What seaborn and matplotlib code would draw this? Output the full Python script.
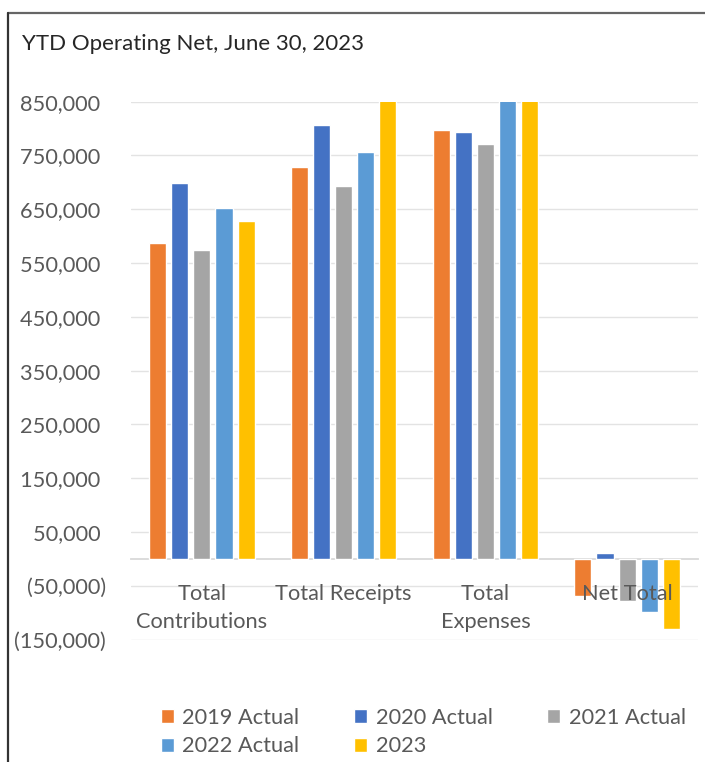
import matplotlib
matplotlib.use("Agg")
import matplotlib.pyplot as plt
import seaborn as sns
import pandas as pd
from matplotlib.lines import Line2D
from matplotlib.ticker import FuncFormatter, FixedLocator

# ---- data ----
categories = ["Total\nContributions", "Total Receipts", "Total\nExpenses", "Net Total"]
series = ["2019 Actual", "2020 Actual", "2021 Actual", "2022 Actual", "2023"]
v2019 = [588000, 729000, 797000, -70000]
v2020 = [699000, 807000, 793000, 10000]
v2021 = [575000, 694000, 771000, -78000]
v2022 = [652000, 757000, 856000, -99000]
v2023 = [628000, 860000, 990000, -130000]
y_ticks = [-150000, -50000, 50000, 150000, 250000, 350000, 450000,
           550000, 650000, 750000, 850000]
title = "YTD Operating Net, June 30, 2023"

colors = ["#ED7D31", "#4472C4", "#A5A5A5", "#5B9BD5", "#FFC000"]

rows = []
for s, vals in zip(series, [v2019, v2020, v2021, v2022, v2023]):
    for c, v in zip(categories, vals):
        rows.append({"Category": c, "Series": s, "Value": v})
df = pd.DataFrame(rows)

sns.set_style("white")
plt.rcParams["font.family"] = ["Lato", "DejaVu Sans"]

FS = 15.7
W, H = 705, 762
fig = plt.figure(figsize=(W / 100, H / 100), dpi=100)
left, right, top, bottom = 131, 698, 101.7, 639.5
ax = fig.add_axes([left / W, 1 - bottom / H, (right - left) / W, (bottom - top) / H])

sns.barplot(data=df, x="Category", y="Value", hue="Series", order=categories,
            hue_order=series, palette=colors, saturation=1, width=0.78, gap=0.23,
            errorbar=None, ax=ax)

ax.set_ylim(-150000, 850000)
ax.set_xlim(-0.5, 3.5)
ax.yaxis.set_major_locator(FixedLocator(y_ticks))


def fmt(v, pos):
    if v < 0:
        return f"({-v:,.0f})"
    return f"{v:,.0f} "


ax.yaxis.set_major_formatter(FuncFormatter(fmt))
# gridlines behind the bars, axis labels above them
for yt in y_ticks:
    ax.axhline(yt, color="#E3E3E3", linewidth=1, zorder=0)
ax.grid(False)
ax.set_axisbelow(False)

for s in ["top", "right", "left"]:
    ax.spines[s].set_visible(False)
ax.spines["bottom"].set_position(("data", 0))
ax.spines["bottom"].set_color("#D9D9D9")
ax.spines["bottom"].set_linewidth(1.3)
ax.spines["bottom"].set_zorder(0.5)

ax.tick_params(axis="y", length=0, pad=18, labelsize=FS, labelcolor="#595959")
ax.tick_params(axis="x", length=0, pad=18, labelsize=FS, labelcolor="#595959")
for t in ax.get_xticklabels():
    t.set_linespacing(1.5)
ax.set_xlabel("")
ax.set_ylabel("")

handles, labels = ax.get_legend_handles_labels()
ax.get_legend().remove()
order = [0, 3, 1, 4, 2]
fig.legend([handles[i] for i in order], [labels[i] for i in order], ncol=3,
           loc="upper left", bbox_to_anchor=(141 / W, 1 - 688 / H), frameon=False,
           handlelength=0.6, handleheight=0.6, handletextpad=0.4,
           columnspacing=2.5, labelspacing=0.4, fontsize=FS,
           labelcolor="#595959")

fig.text(22 / W, 1 - 50 / H, title, fontsize=16.0, color="#262626", va="baseline", ha="left")

fig.add_artist(Line2D([8 / W, 1.0], [1 - 13 / H, 1 - 13 / H], color="#666666",
                      linewidth=1.6, transform=fig.transFigure))
fig.add_artist(Line2D([8 / W, 8 / W], [0, 1 - 13 / H], color="#333333",
                      linewidth=1.6, transform=fig.transFigure))

fig.savefig("out.png", dpi=100)
